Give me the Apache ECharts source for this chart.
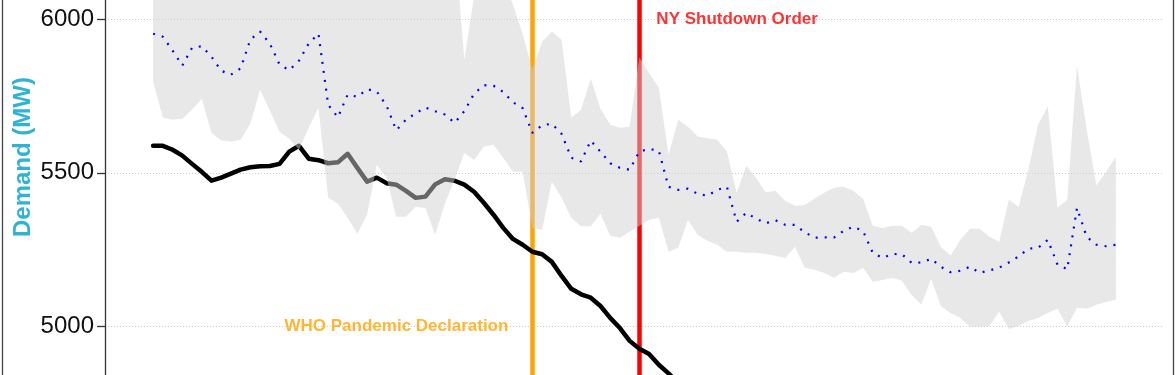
<!DOCTYPE html>
<html><head><meta charset="utf-8">
<script src="https://cdn.jsdelivr.net/npm/echarts@6/dist/echarts.min.js"></script>
<style>html,body{margin:0;padding:0;background:#fff}#c{width:1175px;height:375px}</style>
</head><body><div id="c"></div>
<script>
// ---- data ----
const startDate = '2020-02-01';          // first day of the daily series
const yTicks = [4500, 5000, 5500, 6000, 6500];
const yTitle = 'Demand (MW)';

// expected (normal) demand, blue dotted
const normalDemand = [
 5954,5944,5899,5850,5908,5913,5879,5833,5820,5841,
 5935,5961,5922,5853,5835,5866,5922,5954,5722,5681,
 5755,5748,5773,5765,5719,5639,5673,5694,5713,5701,
 5690,5663,5701,5758,5786,5784,5764,5730,5711,5630,
 5655,5660,5627,5549,5537,5605,5569,5531,5516,5510,
 5569,5578,5572,5454,5444,5448,5431,5425,5444,5454,
 5340,5369,5350,5335,5345,5330,5330,5306,5288,5289,
 5288,5310,5324,5310,5239,5222,5235,5234,5206,5207,
 5219,5193,5175,5180,5193,5173,5181,5190,5207,5227,
 5252,5255,5281,5200,5185,5385,5291,5265,5260,5265];

// range band, lower and upper edges
const bandLow = [
 5797,5680,5673,5676,5706,5742,5631,5605,5602,5608,
 5660,5771,5703,5634,5611,5575,5647,5712,5418,5399,
 5353,5301,5363,5526,5484,5356,5356,5389,5385,5297,
 5399,5477,5565,5542,5585,5592,5549,5503,5503,5320,
 5314,5471,5418,5353,5325,5325,5366,5294,5288,5307,
 5327,5346,5353,5242,5255,5346,5297,5278,5265,5242,
 5242,5239,5239,5235,5229,5222,5258,5190,5183,5173,
 5157,5177,5173,5190,5144,5150,5157,5147,5101,5069,
 5154,5065,5042,5026,4997,4997,5000,5046,4990,5000,
 5016,5026,5042,5056,4997,5059,5056,5069,5078,5085];
const bandHigh = [
 6250,6200,6180,6150,6220,6260,6200,6150,6140,6170,
 6250,6300,6280,6200,6160,6180,6240,6300,6250,6180,
 6150,6160,6190,6200,6170,6140,6160,6180,6200,6220,
 6240,6261,5869,6075,6160,6180,6120,6049,5953,5837,
 5928,5961,5934,5680,5706,5807,5709,5657,5647,5650,
 5876,5825,5778,5559,5673,5650,5618,5613,5608,5569,
 5435,5523,5484,5436,5441,5408,5392,5395,5415,5435,
 5451,5454,5441,5415,5327,5320,5327,5327,5304,5330,
 5324,5258,5229,5281,5317,5317,5291,5275,5412,5389,
 5510,5657,5716,5386,5412,5850,5641,5458,5503,5552];

// actual demand (smoothed), black
const actualDemand = [
 5588,5588,5575,5556,5529,5503,5474,5484,5497,5510,
 5518,5521,5522,5529,5569,5588,5546,5541,5531,5534,
 5562,5516,5471,5484,5466,5461,5441,5418,5422,5462,
 5479,5474,5461,5438,5402,5363,5320,5284,5265,5242,
 5234,5209,5163,5121,5103,5092,5065,5026,4993,4951,
 4925,4908,4873,4845,4812,4785];

const eventDates = ['2020-03-11', '2020-03-22'];
const eventNames = ['WHO Pandemic Declaration', 'NY Shutdown Order'];

// ---- build ----
const DAY = 86400000;
const t0 = Date.parse(startDate + 'T00:00:00Z');
const tAt = i => t0 + i * DAY;
const tOf = s => Date.parse(s + 'T00:00:00Z');
const n = normalDemand.length;
const pairs = arr => arr.map((v, i) => [tAt(i), v]);
const bandDiff = bandHigh.map((v, i) => [tAt(i), v - bandLow[i]]);

const FONT = '"Liberation Sans", Arial, Helvetica, sans-serif';
const eventColors = ['#FFA500', '#FF0000'];

const chart = echarts.init(document.getElementById('c'), null, {renderer: 'canvas'});
chart.setOption({
  animation: false,
  backgroundColor: '#ffffff',
  grid: {left: 105, right: 11, top: -133.5, bottom: -104, containLabel: false, outerBoundsMode: 'none'},
  xAxis: {
    type: 'time', show: false,
    min: tAt(0) - 4.95 * DAY, max: tAt(n - 1) + 4.95 * DAY
  },
  yAxis: {
    type: 'value', min: yTicks[0], max: yTicks[yTicks.length - 1], interval: 500,
    axisLine: {show: true, lineStyle: {color: '#333333', width: 1.3}},
    axisTick: {show: true, length: 8, lineStyle: {color: '#333333', width: 1.3}},
    axisLabel: {fontSize: 24, color: '#111111', margin: 11, fontFamily: FONT, formatter: v => String(v)},
    splitLine: {show: true, lineStyle: {color: '#cccccc', width: 1, type: [1, 2]}}
  },
  series: [
    {
      type: 'line', name: 'events', data: [], z: 1,
      markLine: {
        z: 1, silent: true, symbol: ['none', 'none'], label: {show: false},
        data: eventDates.map((d, k) => ({xAxis: tOf(d), lineStyle: {color: eventColors[k], width: 4.5, type: 'solid'}}))
      }
    },
    {
      type: 'line', name: 'Actual', data: pairs(actualDemand), z: 2,
      showSymbol: false, symbol: 'none',
      lineStyle: {color: '#000000', width: 4.5, join: 'round', cap: 'round'}
    },
    {
      type: 'line', name: 'bandLow', data: pairs(bandLow), stack: 'band', z: 3,
      symbol: 'none', lineStyle: {opacity: 0}, silent: true
    },
    {
      type: 'line', name: 'band', data: bandDiff, stack: 'band', z: 3,
      symbol: 'none', lineStyle: {opacity: 0}, silent: true,
      areaStyle: {color: 'rgba(208,208,208,0.49)', opacity: 1}
    },
    {
      type: 'line', name: 'Normal', data: pairs(normalDemand), z: 4,
      symbol: 'none',
      lineStyle: {color: '#0000FF', width: 2.2, type: [2, 7]}
    },
    {
      type: 'scatter', name: 'labels', z: 5, symbolSize: 0, silent: true,
      data: [
        {name: eventNames[0], value: [tOf(eventDates[0]), 5000],
         label: {position: 'left', distance: 24, color: eventColors[0]}},
        {name: eventNames[1], value: [tOf(eventDates[1]), 6000],
         label: {position: 'right', distance: 17, color: eventColors[1]}}
      ],
      label: {show: true, formatter: '{b}', fontSize: 17, fontWeight: 'bold', fontFamily: FONT}
    }
  ],
  graphic: [
    {type: 'line', shape: {x1: 2.5, y1: 0, x2: 2.5, y2: 375}, style: {stroke: '#444444', lineWidth: 1.3}, silent: true},
    {type: 'line', shape: {x1: 1173.5, y1: 0, x2: 1173.5, y2: 375}, style: {stroke: '#444444', lineWidth: 1.3}, silent: true},
    {type: 'text', x: 23, y: 157, rotation: Math.PI / 2, silent: true,
     style: {text: yTitle, fill: '#2EB4D3', fontSize: 24, fontWeight: 'bold', fontFamily: FONT, align: 'center', verticalAlign: 'middle'}}
  ]
});
</script>
</body></html>
